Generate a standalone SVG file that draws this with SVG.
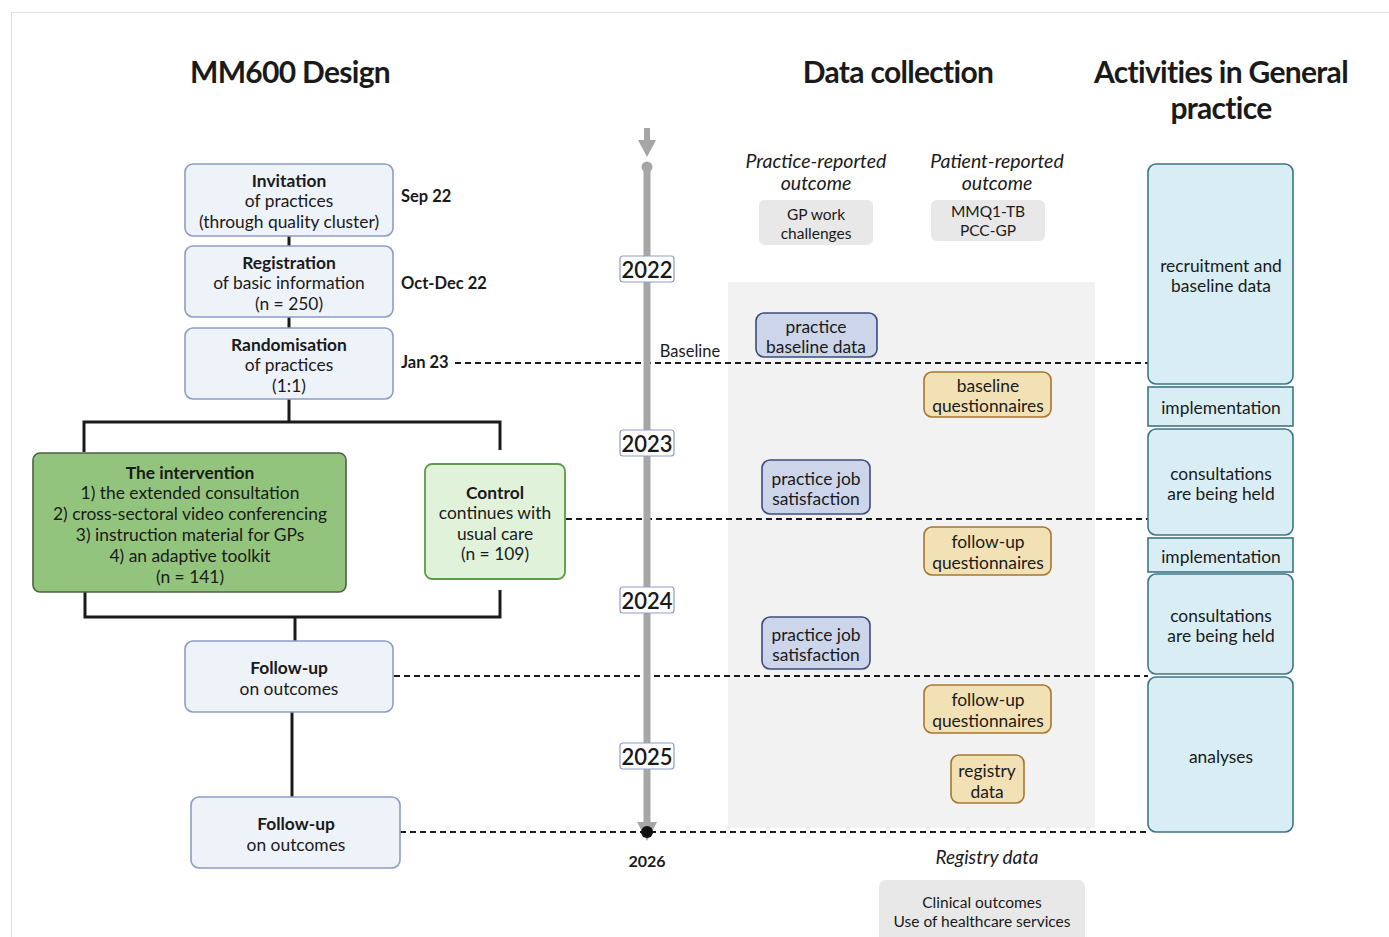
<svg xmlns="http://www.w3.org/2000/svg" width="1389" height="937" viewBox="0 0 1389 937">
<style>
text{font-family:Lato,"Noto Sans",sans-serif;fill:#1a1a1a;text-anchor:middle;dominant-baseline:central}
.t{font-size:30px;font-weight:bold;letter-spacing:-0.7px}
.b{font-size:17.4px}
.bb{font-size:17.4px;font-weight:bold}
.s{font-size:15.5px}
.i{font-size:19.5px;font-style:italic}
.d{font-size:16.5px;font-weight:bold;text-anchor:start}
.yr{font-size:22px;font-weight:600}
.lb{fill:#eef2f9;stroke:#8d9dc8;stroke-width:1.6}
.bl{fill:#ccd5ea;stroke:#3c4d7a;stroke-width:1.6}
.ye{fill:#f2e1b5;stroke:#a7772f;stroke-width:1.6}
.gr{fill:#e8e8e8}
.rc{fill:#d9eef4;stroke:#3d7585;stroke-width:1.6}
.ln{stroke:#1a1a1a;stroke-width:3;fill:none}
.dl{stroke:#1a1a1a;stroke-width:2;stroke-dasharray:6 4;fill:none}
.yb{fill:#fff;stroke:#8d9dc8;stroke-width:1.2}
</style>
<rect x="0" y="0" width="1389" height="937" fill="#fff"/>
<path d="M11.5 937 V12.5 H1389" fill="none" stroke="#e0e0e0" stroke-width="1"/>

<text class="t" x="290" y="71">MM600 Design</text>
<text class="t" x="898" y="71">Data collection</text>
<text class="t" x="1221" y="71">Activities in General</text>
<text class="t" x="1221" y="107">practice</text>

<rect x="728" y="282" width="367" height="546" fill="#f2f2f2"/>

<g id="connectors">
<path class="ln" d="M289 236V246M289 317V328M289 399V422M84 452V422H500V450M85 592V617H500V590M295 617V641M292 712V797"/>
<path class="dl" d="M455 363H1148M566 519H1148M394 676H1148M400 832H1148"/>
</g>

<g id="timeline">
<rect x="644" y="128" width="6" height="14" fill="#a6a6a6"/>
<path d="M638 140H656L647 157Z" fill="#a6a6a6"/>
<circle cx="647" cy="167" r="5.5" fill="#a6a6a6"/>
<rect x="643.5" y="167" width="7" height="658" fill="#a6a6a6"/>
<path d="M637 822H657L647 841Z" fill="#a6a6a6"/>
<circle cx="647" cy="832" r="6" fill="#111"/>
<rect class="yb" x="620" y="256" width="54" height="26" rx="3"/><text class="yr" x="647" y="269">2022</text>
<rect class="yb" x="620" y="430" width="54" height="26" rx="3"/><text class="yr" x="647" y="443">2023</text>
<rect class="yb" x="620" y="587" width="54" height="26" rx="3"/><text class="yr" x="647" y="600">2024</text>
<rect class="yb" x="620" y="743" width="54" height="26" rx="3"/><text class="yr" x="647" y="756">2025</text>
<text class="bb" x="647" y="860" style="font-size:16px">2026</text>
<text class="b" x="690" y="351" style="font-size:16.5px">Baseline</text>
</g>

<g id="invitation"><rect class="lb" x="185" y="164" width="208" height="72" rx="8"/>
<text class="bb" x="289" y="180">Invitation</text><text class="b" x="289" y="200">of practices</text><text class="b" x="289" y="221">(through quality cluster)</text></g>
<g id="registration"><rect class="lb" x="185" y="246" width="208" height="71" rx="8"/>
<text class="bb" x="289" y="262">Registration</text><text class="b" x="289" y="282">of basic information</text><text class="b" x="289" y="303">(n = 250)</text></g>
<g id="randomisation"><rect class="lb" x="185" y="328" width="208" height="71" rx="8"/>
<text class="bb" x="289" y="344">Randomisation</text><text class="b" x="289" y="364">of practices</text><text class="b" x="289" y="385">(1:1)</text></g>
<g id="dates"><text class="d" x="401" y="196">Sep 22</text><text class="d" x="401" y="283">Oct-Dec 22</text><text class="d" x="401" y="362">Jan 23</text></g>

<g id="intervention"><rect x="33" y="453" width="313" height="139" rx="7" fill="#93c47d" stroke="#4a6440" stroke-width="1.6"/>
<text class="bb" x="190" y="472">The intervention</text>
<text class="b" x="190" y="492">1) the extended consultation</text>
<text class="b" x="190" y="513">2) cross-sectoral video conferencing</text>
<text class="b" x="190" y="534">3) instruction material for GPs</text>
<text class="b" x="190" y="555">4) an adaptive toolkit</text>
<text class="b" x="190" y="576">(n = 141)</text></g>
<g id="control"><rect x="425" y="464" width="140" height="115" rx="7" fill="#e1f2da" stroke="#5e9a47" stroke-width="1.8"/>
<text class="bb" x="495" y="492">Control</text><text class="b" x="495" y="512">continues with</text><text class="b" x="495" y="533">usual care</text><text class="b" x="495" y="553">(n = 109)</text></g>
<g id="followup1"><rect class="lb" x="185" y="641" width="208" height="71" rx="8"/>
<text class="bb" x="289" y="667">Follow-up</text><text class="b" x="289" y="688">on outcomes</text></g>
<g id="followup2"><rect class="lb" x="191" y="797" width="209" height="71" rx="8"/>
<text class="bb" x="296" y="823">Follow-up</text><text class="b" x="296" y="844">on outcomes</text></g>

<g id="headers">
<text class="i" x="816" y="160">Practice-reported</text><text class="i" x="816" y="182">outcome</text>
<text class="i" x="997" y="160">Patient-reported</text><text class="i" x="997" y="182">outcome</text>
<text class="i" x="987" y="856" style="font-size:19px">Registry data</text>
</g>
<g id="gp-work"><rect class="gr" x="759" y="200" width="114" height="45" rx="6"/>
<text class="s" x="816" y="214">GP work</text><text class="s" x="816" y="233">challenges</text></g>
<g id="mmq"><rect class="gr" x="931" y="200" width="114" height="41" rx="6"/>
<text class="s" x="988" y="211">MMQ1-TB</text><text class="s" x="988" y="230">PCC-GP</text></g>
<g id="clinical"><rect class="gr" x="879" y="880" width="206" height="70" rx="7"/>
<text class="s" x="982" y="902">Clinical outcomes</text><text class="s" x="982" y="921">Use of healthcare services</text></g>

<g id="practice-baseline"><rect class="bl" x="756" y="313" width="121" height="44" rx="8"/>
<text class="b" x="816" y="326">practice</text><text class="b" x="816" y="346">baseline data</text></g>
<g id="job1"><rect class="bl" x="762" y="460" width="108" height="54" rx="8"/>
<text class="b" x="816" y="478">practice job</text><text class="b" x="816" y="498">satisfaction</text></g>
<g id="job2"><rect class="bl" x="762" y="617" width="108" height="52" rx="8"/>
<text class="b" x="816" y="634">practice job</text><text class="b" x="816" y="654">satisfaction</text></g>

<g id="baseline-q"><rect class="ye" x="924" y="372" width="127" height="45" rx="8"/>
<text class="b" x="988" y="385">baseline</text><text class="b" x="988" y="405">questionnaires</text></g>
<g id="followup-q1"><rect class="ye" x="924" y="527" width="127" height="48" rx="8"/>
<text class="b" x="988" y="541">follow-up</text><text class="b" x="988" y="562">questionnaires</text></g>
<g id="followup-q2"><rect class="ye" x="924" y="685" width="127" height="48" rx="8"/>
<text class="b" x="988" y="699">follow-up</text><text class="b" x="988" y="720">questionnaires</text></g>
<g id="registry"><rect class="ye" x="951" y="755" width="73" height="48" rx="8"/>
<text class="b" x="987" y="770">registry</text><text class="b" x="987" y="791">data</text></g>

<g id="recruitment"><rect class="rc" x="1148" y="164" width="145" height="220" rx="8"/>
<text class="b" x="1221" y="265">recruitment and</text><text class="b" x="1221" y="285">baseline data</text></g>
<g id="impl1"><rect class="rc" x="1148" y="387" width="145" height="39"/>
<text class="b" x="1221" y="407">implementation</text></g>
<g id="consult1"><rect class="rc" x="1148" y="429" width="145" height="106" rx="8"/>
<text class="b" x="1221" y="473">consultations</text><text class="b" x="1221" y="493">are being held</text></g>
<g id="impl2"><rect class="rc" x="1148" y="538" width="145" height="34"/>
<text class="b" x="1221" y="556">implementation</text></g>
<g id="consult2"><rect class="rc" x="1148" y="574" width="145" height="100" rx="8"/>
<text class="b" x="1221" y="615">consultations</text><text class="b" x="1221" y="635">are being held</text></g>
<g id="analyses"><rect class="rc" x="1148" y="677" width="145" height="155" rx="8"/>
<text class="b" x="1221" y="756">analyses</text></g>
</svg>
